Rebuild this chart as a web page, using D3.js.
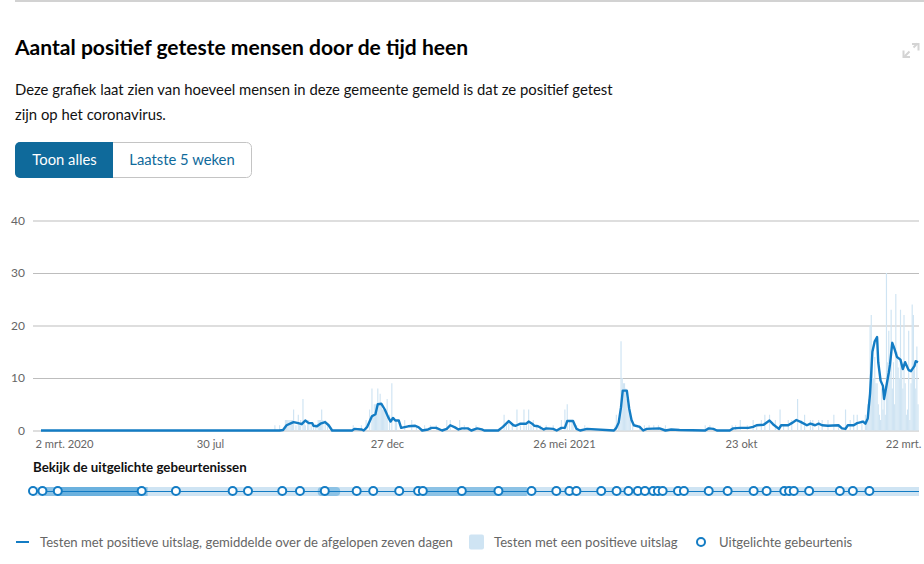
<!DOCTYPE html>
<html><head><meta charset="utf-8">
<script src="https://cdn.jsdelivr.net/npm/d3@7"></script>
<style>
html,body{margin:0;padding:0;background:#fff;overflow:hidden}
svg{display:block}
text{font-family:Lato,sans-serif}
</style></head><body>
<svg id="c" width="924" height="564"></svg>
<script>
const title="Aantal positief geteste mensen door de tijd heen";
const introLines=["Deze grafiek laat zien van hoeveel mensen in deze gemeente gemeld is dat ze positief getest","zijn op het coronavirus."];
const buttonLabels=["Toon alles","Laatste 5 weken"];
const eventsTitle="Bekijk de uitgelichte gebeurtenissen";
const legendLabels=["Testen met positieve uitslag, gemiddelde over de afgelopen zeven dagen","Testen met een positieve uitslag","Uitgelichte gebeurtenis"];
const yTicks=[0,10,20,30,40];
const tickDays=[0,150,300,450,600,750];
const tickLabels=["2 mrt. 2020","30 jul","27 dec","26 mei 2021","23 okt","22 mrt."];

// days since 2 March 2020 and the 7-day average read at that day
const lineDays=[0,204,207,210,214,216,220,223,226,229,232,233,236,239,243,246,249,266,268,274,276,279,283,286,288,291,294,297,299,301,303,306,308,314,320,323,326,331,334,338,343,347,350,354,357,360,365,368,373,377,379,391,395,400,404,406,410,415,417,420,422,425,430,432,438,441,445,448,450,455,458,461,467,490,492,494,496,497.5,501,503,505,507,512,515,518,529,534,539,546,568,571,575,578,589,592,598,605,609,612,618,623,626,631,633,639,642,646,650,655,658,662,665,668,673,682,685,688,690,695,698,703,705,707,709,711,713,715,716,718,720,721,725,726,728,730,732,735,737,739,742,744,747,748,750];
const lineValues=[0,0,0.1,1,1.4,1.6,1.4,1.2,1.9,1.4,1.4,0.9,0.8,1.3,1.6,1,0,0,0.3,0.2,0,0.7,2.7,3.1,5,5.1,4,2.5,1.7,2.4,1.9,1.9,0.5,0.8,0.9,0.6,0,0.2,0.5,0.5,0,0.3,1,0.6,0.2,0.4,0.4,0,0.4,0.2,0,0,0.7,1.8,1,0.9,1.3,1.3,1.7,1.3,0.9,0.8,0.2,0.4,0.3,0,0.5,0.5,1.8,1.8,0.3,0,0.3,0,0.5,1.5,4.4,7.6,7.6,4.2,2,1,0.7,0,0.3,0.4,0,0.2,0.1,0,0.4,0.3,0,0,0.4,0.5,0.5,0.7,1,1.1,1.9,1.2,0.3,1,1,1.4,2,1.6,1,1.3,1,1.3,1,0.9,1,0.4,0.3,1,1,1.4,1.7,1.3,2.3,7,15,17,17.8,13,9.5,8.5,6,11,12.5,16.7,15.5,14,13.5,11.7,13,11.5,11.3,12.3,13.2,13];

// daily counts (days not listed are zero)
const barDays=[200,204,209,210,211,212,213,214,215,216,218,220,221,222,224,225,226,228,229,231,233,235,237,238,239,240,241,243,245,267,274,278,281,283,284,285,286,287,288,289,290,291,292,293,294,295,296,298,300,303,304,311,317,321,328,333,338,347,350,358,362,372,396,398,400,403,407,410,413,415,417,419,421,424,427,432,438,445,448,450,452,454,455,458,465,491,492,494,495,496,497,498,499,500,501,502,503,504,506,512,516,520,524,528,534,568,572,591,594,598,604,609,612,616,619,623,628,632,635,639,642,647,650,653,658,660,665,668,673,678,682,688,692,695,698,702,705,706,707,708,709,710,711,712,713,714,715,716,717,718,719,720,721,722,723,724,725,726,727,728,729,730,731,732,733,734,735,736,737,738,739,740,741,742,743,744,745,746,747,748,749,750];
const barValues=[1,1,2,2,2,2,2,2,2,4,1,3,1,2,6,2,1,2,2,1,1,1,2,2,2,4,2,2,1,1,1,2,4,8,3,5,5,5,8,5,7,5,4,4,4,4,6,3,9,2,2,2,2,1,1,1,1,2,2,2,1,1,3,1,2,1,4,1,4,1,4,1,2,1,1,1,1,2,4,5,2,2,2,1,1,1,3,2,3,17,10,9,9,8,6,5,4,2,1,1,1,1,1,1,1,1,1,1,1,2,1,2,1,2,3,3,2,4,1,2,2,6,2,3,2,2,2,2,2,3,1,4,2,3,3,2,3,2,5,6,20,22,13,10,14,9,9,5,3,2,8,4,7,3,30,13,19,12,23,8,13,5,26,15,12,10,23,13,8,22,9,3,4,19,2,9,24,22,13,8,16,5];

const eventDays=[0,8,21,92,121,169,182,211,226,247,274,288,310,326,330,363,394,422,443,454,460,481,494,504,512,518,525,529,533,546,551,572,588,610,621,636,640,644,657,683,694,708];
const eventRangeStart=[10,21,241,330];
const eventRangeEnd=[97,92,260,418];

const svg=d3.select("#c");
const x=d3.scaleLinear().domain([0,750]).range([41,918]);
const xAxisScale=d3.scaleLinear().domain([0,750]).range([33,918]);
const y=d3.scaleLinear().domain([0,40]).range([430.5,220.5]);
const blue="#137cc4", pale="#cfe4f3", grey="#666";

svg.append("rect").attr("x",15).attr("y",0).attr("width",909).attr("height",2).attr("fill","#d2d2d2");
svg.append("text").attr("x",15).attr("y",55).attr("font-size",21.05).attr("font-weight",700).attr("fill","#000").text(title);
introLines.forEach((t,i)=>svg.append("text").attr("x",15).attr("y",95+i*24.5).attr("font-size",14.85).attr("fill","#111").text(t));

// buttons
svg.append("rect").attr("x",15.5).attr("y",142.5).attr("width",236).attr("height",35).attr("rx",5).attr("fill","#fff").attr("stroke","#c4c4c4");
svg.append("path").attr("d","M113 142H20a5 5 0 0 0-5 5V173a5 5 0 0 0 5 5H113Z").attr("fill","#0f6a9b");
svg.append("text").attr("x",64.5).attr("y",165).attr("text-anchor","middle").attr("font-size",14.8).attr("fill","#fff").text(buttonLabels[0]);
svg.append("text").attr("x",182).attr("y",165).attr("text-anchor","middle").attr("font-size",14.8).attr("fill","#0f6a9b").text(buttonLabels[1]);

// expand icon
svg.append("path").attr("d","M905 56L909.5 51.5M913.5 47.5L917.5 43.5M912 44H918.5V50.5M903.5 50.5V57H910").attr("fill","none").attr("stroke","#d4d4d4").attr("stroke-width",2);

// y axis with gridlines
const gy=svg.append("g").attr("transform","translate(33,0)")
  .call(d3.axisLeft(y).tickValues(yTicks).tickSize(-886).tickPadding(8));
gy.select(".domain").remove();
gy.selectAll(".tick line").attr("stroke","#bdbdbd");
gy.selectAll(".tick text").attr("font-size",12).attr("fill",grey).style("font-family","Lato,sans-serif");

// bars
svg.append("g").selectAll("rect").data(barDays).join("rect")
  .attr("x",d=>x(d)-0.55).attr("width",1.17)
  .attr("y",(d,i)=>y(barValues[i])).attr("height",(d,i)=>y(0)-y(barValues[i]))
  .attr("fill",pale);

// line
const line=d3.line().x(d=>x(d)).y((d,i)=>y(lineValues[i]));
svg.append("path").datum(lineDays).attr("d",line).attr("fill","none").attr("stroke",blue).attr("stroke-width",2.4).attr("stroke-linejoin","round");

// x axis labels
const gx=svg.append("g").attr("transform","translate(0,437)")
  .call(d3.axisBottom(xAxisScale).tickValues(tickDays).tickFormat((d,i)=>tickLabels[i]).tickSize(0).tickPadding(3));
gx.select(".domain").remove();
gx.selectAll(".tick text").attr("font-size",11.2).attr("fill",grey).style("font-family","Lato,sans-serif")
  .attr("text-anchor",(d,i)=>i===0?"start":i===tickDays.length-1?"end":"middle")
  .attr("dx",(d,i)=>i===0?2:i===tickDays.length-1?3:0);

// events
svg.append("text").attr("x",33).attr("y",472).attr("font-size",13.3).attr("font-weight",700).attr("fill","#111").text(eventsTitle);
const ev=d3.scaleLinear().domain([0,750]).range([33,919]);
const evY=491.5;
svg.append("rect").attr("x",33).attr("y",evY-4.5).attr("width",886).attr("height",9).attr("fill",pale);
svg.append("g").selectAll("rect").data(eventRangeStart).join("rect")
  .attr("x",d=>ev(d)).attr("width",(d,i)=>ev(eventRangeEnd[i])-ev(d))
  .attr("y",evY-4.5).attr("height",9).attr("rx",(d,i)=>i===2?4:0)
  .attr("fill","#4a9fd8").attr("opacity",0.5);
svg.append("line").attr("x1",33).attr("x2",919).attr("y1",evY).attr("y2",evY).attr("stroke",blue).attr("stroke-width",1);
svg.append("g").selectAll("circle").data(eventDays).join("circle")
  .attr("cx",d=>ev(d)).attr("cy",evY-0.5).attr("r",4)
  .attr("fill","#fff").attr("stroke",blue).attr("stroke-width",2);

// legend
const ly=542;
svg.append("line").attr("x1",16).attr("x2",29).attr("y1",ly).attr("y2",ly).attr("stroke",blue).attr("stroke-width",2);
svg.append("text").attr("x",40).attr("y",ly+4.5).attr("font-size",13.1).attr("fill",grey).text(legendLabels[0]);
svg.append("rect").attr("x",469).attr("y",ly-7.5).attr("width",15).attr("height",15).attr("rx",2).attr("fill",pale);
svg.append("text").attr("x",494).attr("y",ly+4.5).attr("font-size",13.1).attr("fill",grey).text(legendLabels[1]);
svg.append("circle").attr("cx",701).attr("cy",ly).attr("r",4).attr("fill","#fff").attr("stroke",blue).attr("stroke-width",2);
svg.append("text").attr("x",719).attr("y",ly+4.5).attr("font-size",13.1).attr("fill",grey).text(legendLabels[2]);
</script>
</body></html>
